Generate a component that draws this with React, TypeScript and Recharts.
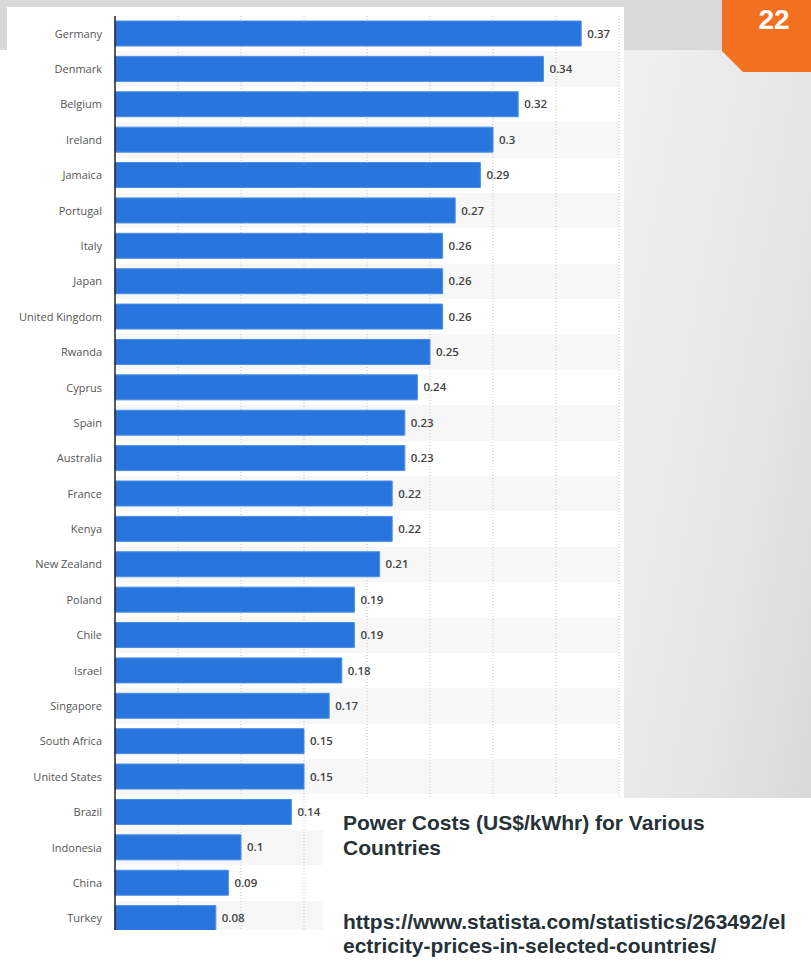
import React from "react";
import {
  BarChart,
  Bar,
  XAxis,
  YAxis,
  CartesianGrid,
  LabelList,
} from "recharts";

const countries = [
  "Germany", "Denmark", "Belgium", "Ireland", "Jamaica", "Portugal", "Italy",
  "Japan", "United Kingdom", "Rwanda", "Cyprus", "Spain", "Australia", "France",
  "Kenya", "New Zealand", "Poland", "Chile", "Israel", "Singapore",
  "South Africa", "United States", "Brazil", "Indonesia", "China", "Turkey",
];
const prices = [
  0.37, 0.34, 0.32, 0.3, 0.29, 0.27, 0.26, 0.26, 0.26, 0.25, 0.24, 0.23, 0.23,
  0.22, 0.22, 0.21, 0.19, 0.19, 0.18, 0.17, 0.15, 0.15, 0.14, 0.1, 0.09, 0.08,
];
const xTicks = [0, 0.05, 0.1, 0.15, 0.2, 0.25, 0.3, 0.35, 0.4];
const gridTicks = [0.05, 0.1, 0.15, 0.2, 0.25, 0.3, 0.35, 0.4];
const stripeColors = ["rgba(0,0,0,0)", "rgba(0,0,0,0.03)"];
const slideNumber = "22";
const titleLines = ["Power Costs (US$/kWhr) for Various", "Countries"];
const linkLines = [
  "https://www.statista.com/statistics/263492/el",
  "ectricity-prices-in-selected-countries/",
];

const data = countries.map((c, i) => ({ country: c, price: prices[i] }));

const font = "'Open Sans', 'Noto Sans', sans-serif";
const slideFont = "'Liberation Sans', Arial, sans-serif";

const CountryTick = (props: any) => {
  const { x, y, payload } = props;
  return (
    <text
      x={x}
      y={y}
      dy={4}
      textAnchor="end"
      fill="#555555"
      fontSize={11}
      fontFamily={font}
    >
      {payload.value}
    </text>
  );
};

const applyScale = (s: any, v: any) => {
  if (s && typeof s === "function") return s(v);
  if (s && typeof s.map === "function") return s.map(v);
  return undefined;
};

// band starts of the category axis, taken from the library's own scale
const bandStarts = ({ yAxis }: any) =>
  countries
    .map((c) => applyScale(yAxis && yAxis.scale, c))
    .filter((v: any) => typeof v === "number");

// grid positions of the value axis, taken from the library's own scale
const valueGrid = ({ xAxis }: any) =>
  gridTicks
    .map((t) => applyScale(xAxis && xAxis.scale, t))
    .filter((v: any) => typeof v === "number");

const hiddenLine = (p: any) => <g key={p.key} />;

export default function App() {
  return (
    <div
      style={{
        position: "absolute",
        left: 0,
        top: 0,
        width: 811,
        height: 963,
        background: "#ffffff",
        overflow: "hidden",
      }}
    >
      <div
        style={{
          position: "absolute",
          left: 0,
          top: 0,
          width: 811,
          height: 50,
          background: "#d9d9d9",
        }}
      />
      <div
        style={{
          position: "absolute",
          left: 623,
          top: 50,
          width: 188,
          height: 748,
          background: "linear-gradient(100deg, #f0f0f0 0%, #e6e6e6 60%, #d9d9d9 100%)",
        }}
      />
      <svg
        style={{ position: "absolute", left: 0, top: 0 }}
        width={811}
        height={80}
      >
        <polygon points="722,0 811,0 811,72 743,72 722,51" fill="#f37021" />
        <text
          x={774}
          y={29}
          textAnchor="middle"
          fill="#ffffff"
          fontFamily={slideFont}
          fontWeight="bold"
          fontSize={28}
        >
          {slideNumber}
        </text>
      </svg>
      <div
        style={{
          position: "absolute",
          left: 7,
          top: 7,
          width: 617,
          height: 923,
          background: "#ffffff",
          overflow: "hidden",
        }}
      >
        <BarChart
          width={617}
          height={935}
          data={data}
          layout="vertical"
          margin={{ top: 9, right: 5, bottom: 6, left: 0 }}
          barCategoryGap={0}
        >
          <CartesianGrid
            horizontal={hiddenLine as any}
            vertical={true}
            stroke="#c4c4c4"
            strokeDasharray="1 2"
            horizontalFill={stripeColors}
            fillOpacity={1}
            horizontalCoordinatesGenerator={bandStarts as any}
            verticalCoordinatesGenerator={valueGrid as any}
            syncWithTicks={false}
          />
          <XAxis
            type="number"
            domain={[0, 0.4]}
            ticks={xTicks}
            axisLine={false}
            tickLine={false}
            tick={false}
            height={0}
          />
          <YAxis
            type="category"
            dataKey="country"
            width={108}
            interval={0}
            axisLine={{ stroke: "#222222", strokeWidth: 1.5 }}
            tickLine={false}
            tickSize={0}
            tickMargin={13}
            tick={<CountryTick />}
          />
          <Bar
            dataKey="price"
            fill="#2876dd"
            stroke="#4a8ee6"
            strokeWidth={1}
            barSize={25}
            isAnimationActive={false}
          >
            <LabelList
              dataKey="price"
              position="right"
              offset={6}
              fill="#444444"
              fontSize={11.5}
              fontWeight={600}
              fontFamily={font}
            />
          </Bar>
        </BarChart>
      </div>
      <div
        style={{
          position: "absolute",
          left: 323,
          top: 798,
          width: 488,
          height: 165,
          background: "#ffffff",
        }}
      />
      <div
        style={{
          position: "absolute",
          left: 343,
          top: 810,
          fontFamily: slideFont,
          fontWeight: "bold",
          fontSize: 21,
          lineHeight: "25px",
          color: "#263238",
          whiteSpace: "nowrap",
        }}
      >
        {titleLines.map((l) => (
          <div key={l}>{l}</div>
        ))}
      </div>
      <div
        style={{
          position: "absolute",
          left: 343,
          top: 910,
          fontFamily: slideFont,
          fontWeight: "bold",
          fontSize: 21,
          lineHeight: "23.5px",
          color: "#263238",
          whiteSpace: "nowrap",
        }}
      >
        {linkLines.map((l) => (
          <div key={l}>{l}</div>
        ))}
      </div>
    </div>
  );
}
